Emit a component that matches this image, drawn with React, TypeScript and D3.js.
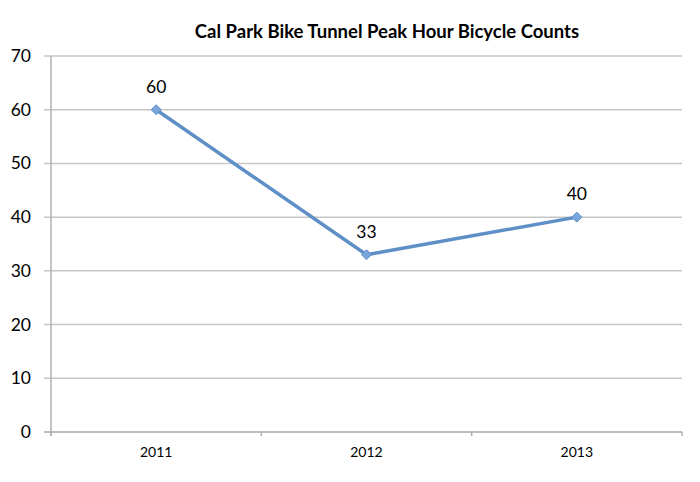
import React from "react";
import * as d3 from "d3";

const categories = ["2011", "2012", "2013"];
const values = [60, 33, 40];
const yTicks = [0, 10, 20, 30, 40, 50, 60, 70];
const title = "Cal Park Bike Tunnel Peak Hour Bicycle Counts";

export default function App() {
  const W = 700, H = 482;
  const x0 = 51, x1 = 682, yTop = 56, yBot = 432;
  const x = d3.scaleBand().domain(categories).range([x0, x1]);
  const y = d3.scaleLinear().domain([0, 70]).range([yBot, yTop]);
  const line = d3.line<number>()
    .x((_, i) => (x(categories[i]) as number) + x.bandwidth() / 2)
    .y((d) => y(d));
  const font = "Lato, 'Open Sans', sans-serif";
  const bounds = [...categories.map((c) => x(c) as number), x1];
  return (
    <svg width={W} height={H} style={{ position: "absolute", left: 0, top: 0 }}>
      <rect width={W} height={H} fill="#fff" />
      <text x={387} y={38} textAnchor="middle" fontFamily={font} fontWeight="bold" fontSize={18.5} fill="#000">{title}</text>
      {yTicks.map((t) => (
        <g key={t}>
          <line x1={44} x2={x1} y1={y(t)} y2={y(t)} stroke={t === 0 ? "#a6a6a6" : "#c6c6c6"} strokeWidth={1.5} />
          <text x={31} y={y(t) + 6} textAnchor="end" fontFamily={font} fontSize={17.5} fill="#000">{t}</text>
        </g>
      ))}
      <line x1={x0} x2={x0} y1={yTop} y2={yBot + 4} stroke="#b0b0b0" strokeWidth={1.5} />
      {bounds.map((b, i) => (
        <line key={i} x1={b} x2={b} y1={yBot} y2={yBot + 4} stroke="#b0b0b0" strokeWidth={1.5} />
      ))}
      {categories.map((c) => (
        <text key={c} x={(x(c) as number) + x.bandwidth() / 2} y={457} textAnchor="middle" fontFamily={font} fontSize={14} fill="#000">{c}</text>
      ))}
      <path d={line(values) || ""} fill="none" stroke="#5e8fc7" strokeWidth={3.5} strokeLinejoin="round" />
      {values.map((v, i) => {
        const cx = (x(categories[i]) as number) + x.bandwidth() / 2;
        const cy = y(v);
        return (
          <g key={i}>
            <path d={`M${cx},${cy - 5}L${cx + 5},${cy}L${cx},${cy + 5}L${cx - 5},${cy}Z`} fill="#7aa6dc" stroke="#5e8fc7" strokeWidth={1} />
            <text x={cx} y={cy - 17} textAnchor="middle" fontFamily={font} fontSize={17.5} fill="#000">{v}</text>
          </g>
        );
      })}
    </svg>
  );
}
